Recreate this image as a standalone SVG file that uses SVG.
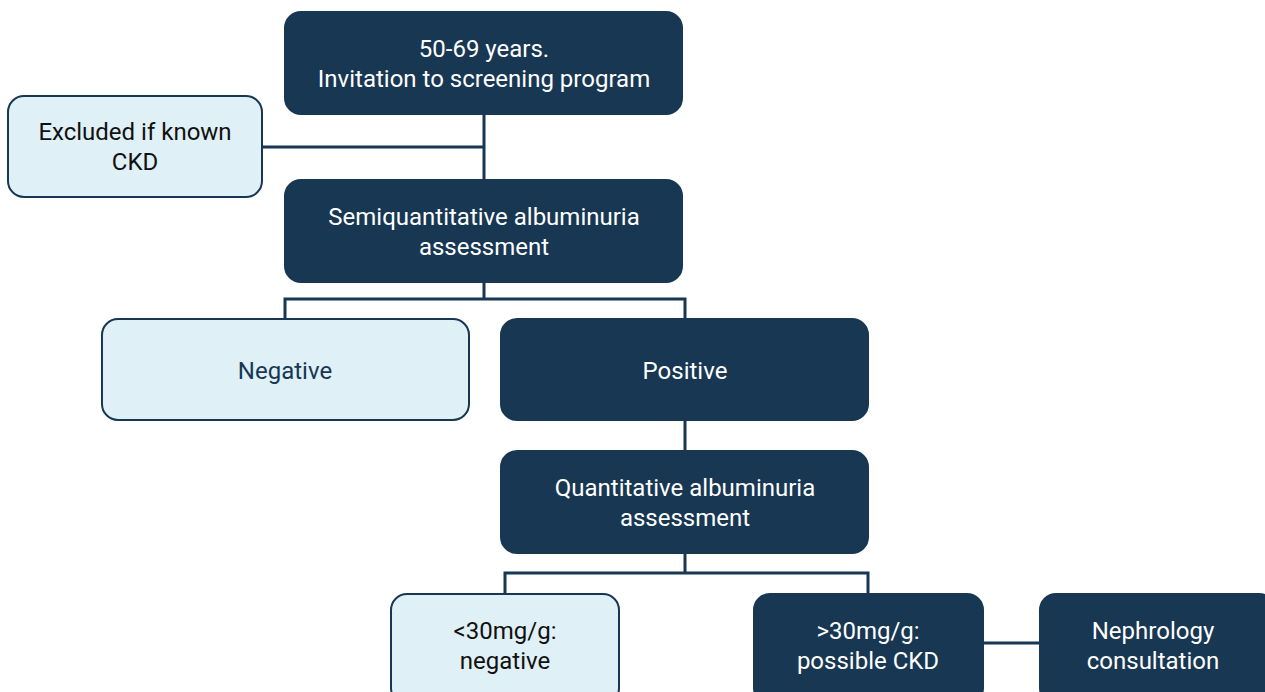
<svg xmlns="http://www.w3.org/2000/svg" width="1265" height="692" viewBox="0 0 1265 692">
<style>
.dark{fill:#173753;stroke:#173753;stroke-width:2}
.light{fill:#dff0f6;stroke:#173753;stroke-width:2}
text{font-family:Roboto,"Liberation Sans",sans-serif;font-size:24px;text-anchor:middle}
.dt{fill:#ffffff}
.lt{fill:#111111}
.conn{fill:none;stroke:#173753;stroke-width:3}
</style>
<rect width="1265" height="692" fill="#ffffff"/>
<g id="connectors">
<path class="conn" d="M484 114V180M262 147H484"/>
<path class="conn" d="M484 282V299M285 319V299H685V319"/>
<path class="conn" d="M685 420V451"/>
<path class="conn" d="M685 553V573M505 594V573H868V594"/>
<path class="conn" d="M983 643H1040"/>
</g>
<g id="start"><rect class="dark" x="285" y="12" width="397" height="102" rx="16"/>
<text class="dt" x="484" y="57">50-69 years.</text><text class="dt" x="484" y="87">Invitation to screening program</text></g>
<g id="excluded"><rect class="light" x="8" y="96" width="254" height="101" rx="16"/>
<text class="lt" x="135" y="140">Excluded if known</text><text class="lt" x="135" y="170">CKD</text></g>
<g id="semiquant"><rect class="dark" x="285" y="180" width="397" height="102" rx="16"/>
<text class="dt" x="484" y="225">Semiquantitative albuminuria</text><text class="dt" x="484" y="255">assessment</text></g>
<g id="negative"><rect class="light" x="102" y="319" width="367" height="101" rx="16"/>
<text class="lt" x="285" y="379" style="fill:#173753">Negative</text></g>
<g id="positive"><rect class="dark" x="501" y="319" width="367" height="101" rx="16"/>
<text class="dt" x="685" y="379">Positive</text></g>
<g id="quant"><rect class="dark" x="501" y="451" width="367" height="102" rx="16"/>
<text class="dt" x="685" y="496">Quantitative albuminuria</text><text class="dt" x="685" y="526">assessment</text></g>
<g id="lt30"><rect class="light" x="391" y="594" width="228" height="110" rx="16"/>
<text class="lt" x="505" y="639">&lt;30mg/g:</text><text class="lt" x="505" y="669">negative</text></g>
<g id="gt30"><rect class="dark" x="754" y="594" width="229" height="110" rx="16"/>
<text class="dt" x="868" y="639">&gt;30mg/g:</text><text class="dt" x="868" y="669">possible CKD</text></g>
<g id="nephro"><rect class="dark" x="1040" y="594" width="235" height="110" rx="16"/>
<text class="dt" x="1153" y="639">Nephrology</text><text class="dt" x="1153" y="669">consultation</text></g>
</svg>
